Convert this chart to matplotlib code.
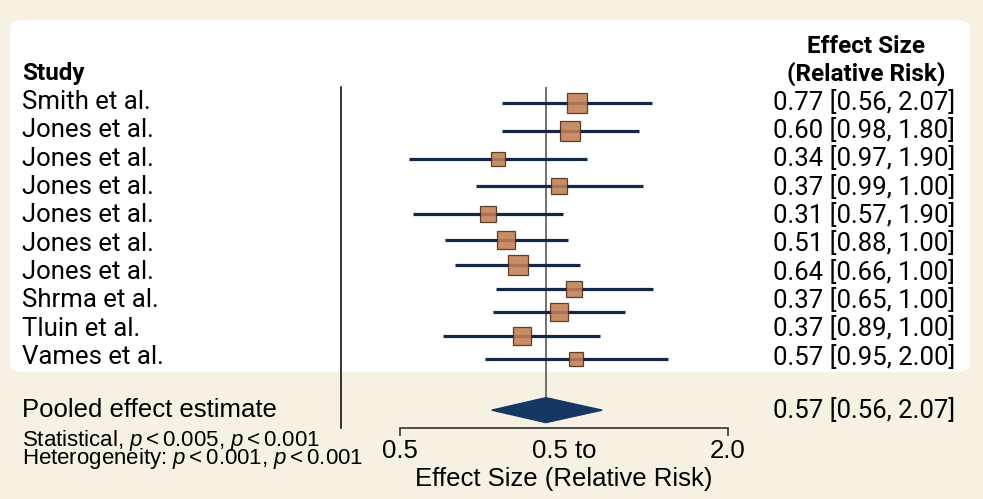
import matplotlib
matplotlib.use('Agg')
import matplotlib.pyplot as plt
import matplotlib.transforms as mtransforms
from matplotlib.patches import FancyBboxPatch
from matplotlib.ticker import NullLocator

plt.rcParams['mathtext.fontset'] = 'custom'
plt.rcParams['mathtext.it'] = 'Liberation Sans:italic'
plt.rcParams['mathtext.rm'] = 'Liberation Sans'

# study labels and the printed effect column
studies = ['Smith et al.', 'Jones et al.', 'Jones et al.', 'Jones et al.',
           'Jones et al.', 'Jones et al.', 'Jones et al.', 'Shrma et al.',
           'Tluin et al.', 'Vames et al.']
effect_text = ['0.77 [0.56, 2.07]', '0.60 [0.98, 1.80]', '0.34 [0.97, 1.90]',
               '0.37 [0.99, 1.00]', '0.31 [0.57, 1.90]', '0.51 [0.88, 1.00]',
               '0.64 [0.66, 1.00]', '0.37 [0.65, 1.00]', '0.37 [0.89, 1.00]',
               '0.57 [0.95, 2.00]']

# drawn intervals (log scale), row positions in label rows
ci_rows = [0.04, 1.02, 2.01, 2.98, 3.94, 4.88, 5.76, 6.6, 7.42, 8.26, 9.08]
ci_low = [0.770, 0.770, 0.519, 0.689, 0.529, 0.604, 0.632, 0.751, 0.742, 0.600, 0.715]
ci_high = [1.452, 1.371, 1.101, 1.397, 0.997, 1.017, 1.070, 1.455, 1.293, 1.166, 1.550]
point_est = [1.056, 1.026, 0.756, 0.980, 0.726, 0.784, 0.822, 1.045, 0.979, 0.836, 1.052]
weights = [13.7, 15.1, 10.3, 11.7, 11.7, 12.6, 14.0, 11.0, 13.0, 12.5, 9.9]

pooled_low, pooled_est, pooled_high = 0.737, 0.926, 1.175
pooled_row = 10.87
pooled_text = '0.57 [0.56, 2.07]'

stat_lines = [r'Statistical, $p < 0.005$, $p < 0.001$',
              r'Heterogeneity: $p < 0.001$, $p < 0.001$']

tick_values = [0.5, 1.0, 2.0]
tick_labels = ['0.5', '0.5 to', '2.0']

cream = '#f7f1e4'
navy = '#14264a'
box_face = '#c17f55'
box_edge = '#4a2a14'

fig = plt.figure(figsize=(9.83, 4.99), dpi=100, facecolor=cream)
fig.patches.append(FancyBboxPatch((10 / 983, 127 / 499), 960 / 983, 352 / 499,
                                  boxstyle='round,pad=0,rounding_size=0.016',
                                  transform=fig.transFigure, facecolor='white',
                                  edgecolor='none', zorder=-10))

ax = fig.add_axes([400 / 983, 71 / 499, 328 / 983, 341 / 499])
ax.patch.set_visible(False)
ax.set_xscale('log')
ax.set_xlim(0.5, 2.0)
ax.set_ylim(11.5, -0.53)

# reference line through pooled estimate
ax.plot([pooled_est, pooled_est], [-0.53, pooled_row], color='#4a4a4a', lw=1.1, zorder=1)

for r, lo, hi, pt, w in zip(ci_rows, ci_low, ci_high, point_est, weights):
    ax.plot([lo, hi], [r, r], color=navy, lw=2.3, solid_capstyle='butt', zorder=2)
    ax.plot(pt, r, marker='s', markersize=w, markerfacecolor=box_face,
            markeredgecolor=box_edge, markeredgewidth=0.9, alpha=0.88, zorder=3)

h = 0.44
ax.fill([pooled_low, pooled_est, pooled_high, pooled_est],
        [pooled_row, pooled_row - h, pooled_row, pooled_row + h],
        color='#173763', zorder=4)

for s in ['top', 'right', 'left']:
    ax.spines[s].set_visible(False)
ax.spines['bottom'].set_linewidth(1.1)
ax.spines['bottom'].set_color('#222222')
ax.set_yticks([])
ax.set_xticks(tick_values)
ax.set_xticklabels(tick_labels, family='Liberation Sans', fontsize=18.5)
ax.xaxis.set_minor_locator(NullLocator())
ax.tick_params(axis='x', direction='out', length=6, width=1.1, color='#222222', pad=2)
ax.xaxis.get_major_ticks()[1].tick1line.set_visible(False)
ax.set_xlabel('Effect Size (Relative Risk)', family='Liberation Sans', fontsize=18.5, labelpad=3)

tr = mtransforms.blended_transform_factory(fig.transFigure, ax.transData)

# left divider line
ax.plot([341 / 983, 341 / 983], [-0.53, 11.5], color='black', lw=1.1, transform=tr, clip_on=False)

ax.text(22 / 983, -0.99, 'Study', transform=tr, family='Roboto', fontweight='bold',
        fontsize=17.5, va='center', ha='left')
ax.text(866 / 983, -1.95, 'Effect Size', transform=tr, family='Roboto', fontweight='bold',
        fontsize=17.5, va='center', ha='center')
ax.text(866 / 983, -1.0, '(Relative Risk)', transform=tr, family='Roboto', fontweight='bold',
        fontsize=17.5, va='center', ha='center')

for i, (name, eff) in enumerate(zip(studies, effect_text)):
    ax.text(22 / 983, i, name, transform=tr, family='Roboto', fontsize=18.5,
            va='center', ha='left')
    ax.text(773 / 983, i, eff, transform=tr, family='Roboto', fontsize=18.5,
            va='center', ha='left')

ax.text(22 / 983, pooled_row, 'Pooled effect estimate', transform=tr,
        family='Liberation Sans', fontsize=18.5, va='center', ha='left')
ax.text(773 / 983, pooled_row, pooled_text, transform=tr, family='Roboto',
        fontsize=18.5, va='center', ha='left')
for row, line in zip([12.13, 12.77], stat_lines):
    ax.text(22 / 983, row, line, transform=tr, family='Liberation Sans',
            fontsize=16, va='baseline', ha='left')

fig.savefig('out.png', dpi=100, facecolor=cream)
